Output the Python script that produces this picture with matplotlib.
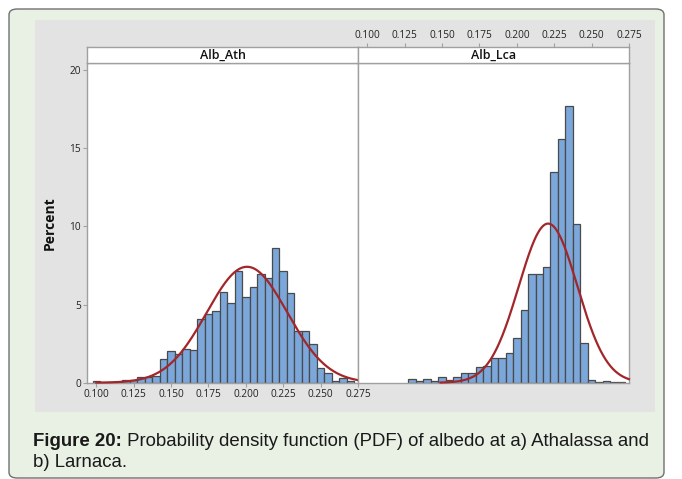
import numpy as np
import matplotlib
matplotlib.use("Agg")
import matplotlib.pyplot as plt
from matplotlib.patches import Rectangle, FancyBboxPatch

# ---------------- data ----------------
bin_width = 0.005
ath_centers = [0.100, 0.105, 0.110, 0.115, 0.120, 0.125, 0.130, 0.135, 0.140,
               0.145, 0.150, 0.155, 0.160, 0.165, 0.170, 0.175, 0.180, 0.185,
               0.190, 0.195, 0.200, 0.205, 0.210, 0.215, 0.220, 0.225, 0.230,
               0.235, 0.240, 0.245, 0.250, 0.255, 0.260, 0.265, 0.270]
ath_percent = [0.08, 0.0, 0.05, 0.05, 0.18, 0.18, 0.34, 0.35, 0.40,
               1.50, 2.00, 1.86, 2.18, 2.10, 4.06, 4.38, 4.57, 5.79,
               5.08, 7.12, 5.51, 6.09, 6.94, 6.67, 8.61, 7.14, 5.73,
               3.29, 3.31, 2.46, 0.94, 0.60, 0.10, 0.32, 0.10]
lca_centers = [0.130, 0.135, 0.140, 0.145, 0.150, 0.155, 0.160, 0.165, 0.170,
               0.175, 0.180, 0.185, 0.190, 0.195, 0.200, 0.205, 0.210, 0.215,
               0.220, 0.225, 0.230, 0.235, 0.240, 0.245, 0.250, 0.255, 0.260,
               0.265, 0.270]
lca_percent = [0.21, 0.10, 0.21, 0.10, 0.34, 0.17, 0.38, 0.60, 0.60,
               0.98, 1.09, 1.56, 1.56, 1.90, 2.84, 4.68, 6.94, 6.94,
               7.39, 13.5, 15.6, 17.67, 10.15, 2.54, 0.17, 0.06, 0.13,
               0.06, 0.06]
# fitted normal parameters (mean, stdev) and fitted-curve domain
ath_fit = (0.2008, 0.0269)
lca_fit = (0.2209, 0.0196)
ath_curve_range = (0.100, 0.275)
lca_curve_range = (0.149, 0.275)

panel_titles = ["Alb_Ath", "Alb_Lca"]
x_ticks = [0.100, 0.125, 0.150, 0.175, 0.200, 0.225, 0.250, 0.275]
x_ticklabels = ["0.100", "0.125", "0.150", "0.175", "0.200", "0.225", "0.250", "0.275"]
y_ticks = [0, 5, 10, 15, 20]
y_label = "Percent"
caption_bold = "Figure 20:"
caption_rest = " Probability density function (PDF) of albedo at a) Athalassa and"
caption_line2 = "b) Larnaca."

# ---------------- style ----------------
W, H = 682, 479
GREEN = "#e9f1e5"
GRAY_PANEL = "#e3e3e3"
BAR = "#7ba7da"
EDGE = "#4a4a4a"
CURVE = "#a3262a"
SPINE = "#a0a0a0"
FONT = "Open Sans"
TICK_FS = 7.3
XLIM = (0.0938, 0.275)
YLIM = (0, 20.45)

fig = plt.figure(figsize=(W / 100, H / 100), dpi=100)
fig.patch.set_facecolor("white")


def fx(px):
    return px / W


def fy(py):
    return 1 - py / H


# outer green box
fig.patches.append(FancyBboxPatch((fx(9), fy(478)), fx(664 - 9), fy(9) - fy(478),
                                  boxstyle="round,pad=0,rounding_size=0.012",
                                  transform=fig.transFigure, facecolor=GREEN,
                                  edgecolor="#707070", linewidth=1.0, zorder=-3))
# gray chart panel
fig.patches.append(Rectangle((fx(35), fy(412)), fx(655 - 35), fy(20) - fy(412),
                             transform=fig.transFigure, facecolor=GRAY_PANEL,
                             edgecolor="none", zorder=-2))

plot_top, plot_bot = 63, 382.7
strip_top = 47
panels_x = [(87, 358), (358, 629)]


def norm_pct(x, mu, sd):
    return 100 * bin_width * np.exp(-0.5 * ((x - mu) / sd) ** 2) / (sd * np.sqrt(2 * np.pi))


datasets = [(ath_centers, ath_percent, ath_fit, ath_curve_range),
            (lca_centers, lca_percent, lca_fit, lca_curve_range)]

for i, ((x0, x1), (cen, pct, fit, crange)) in enumerate(zip(panels_x, datasets)):
    ax = fig.add_axes([fx(x0), fy(plot_bot), fx(x1 - x0), fy(plot_top) - fy(plot_bot)])
    ax.set_facecolor("white")
    ax.bar(cen, pct, width=bin_width, color=BAR, edgecolor=EDGE, linewidth=0.9,
           align="center", zorder=2)
    xs = np.linspace(crange[0], crange[1], 400)
    ax.plot(xs, norm_pct(xs, *fit), color=CURVE, lw=1.6, zorder=3, clip_on=False)
    ax.set_xlim(*XLIM)
    ax.set_ylim(*YLIM)
    for s in ax.spines.values():
        s.set_color(SPINE)
        s.set_linewidth(1.0)
    ax.tick_params(colors=SPINE, labelcolor="#222222", labelsize=TICK_FS, length=3,
                   width=0.8, pad=1.5)
    if i == 0:
        ax.set_xticks(x_ticks)
        ax.set_xticklabels(x_ticklabels, fontfamily=FONT)
        ax.set_yticks(y_ticks)
        ax.set_yticklabels([str(v) for v in y_ticks], fontfamily=FONT)
        ax.set_ylabel(y_label, fontfamily=FONT, fontsize=10, fontweight="bold",
                      color="#111111", labelpad=9)
    else:
        ax.set_xticks([])
        ax.set_yticks([])

    # strip header
    sx = fig.add_axes([fx(x0), fy(plot_top), fx(x1 - x0), fy(strip_top) - fy(plot_top)])
    sx.set_facecolor("white")
    sx.set_xlim(*XLIM)
    sx.set_ylim(0, 1)
    sx.set_yticks([])
    for s in sx.spines.values():
        s.set_color(SPINE)
        s.set_linewidth(1.0)
    sx.text(0.5, 0.47, panel_titles[i], transform=sx.transAxes, ha="center", va="center",
            fontsize=9, fontfamily=FONT, fontweight="semibold", color="#111111")
    if i == 1:
        sx.xaxis.tick_top()
        sx.set_xticks(x_ticks)
        sx.set_xticklabels(x_ticklabels, fontfamily=FONT)
        sx.tick_params(colors=SPINE, labelcolor="#222222", labelsize=TICK_FS, length=3,
                       width=0.8, pad=1.5)
    else:
        sx.set_xticks([])

# caption
CAP_FS = 13.4
t = fig.text(fx(33), fy(446), caption_bold, fontsize=CAP_FS, fontweight="bold",
             fontfamily="Liberation Sans", color="#1a1a1a", va="baseline")
fig.canvas.draw()
bb = t.get_window_extent()
fig.text(bb.x1 / W, fy(446), caption_rest, fontsize=CAP_FS, fontfamily="Liberation Sans",
         color="#1a1a1a", va="baseline")
fig.text(fx(33), fy(467), caption_line2, fontsize=CAP_FS, fontfamily="Liberation Sans",
         color="#1a1a1a", va="baseline")

fig.savefig("out.png", dpi=100)
